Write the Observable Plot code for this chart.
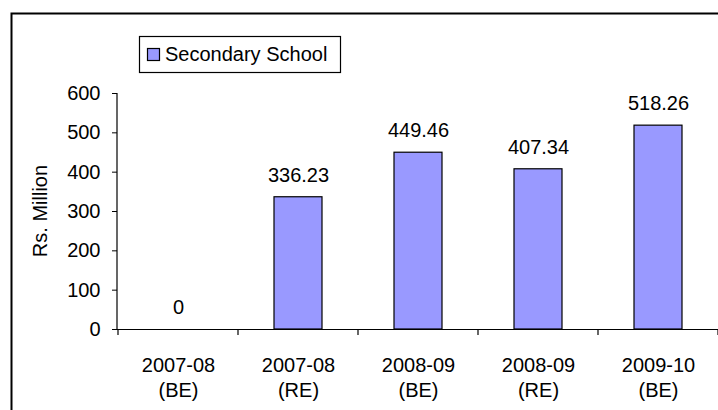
<!DOCTYPE html>
<html>
<head>
<meta charset="utf-8">
<script src="https://cdn.jsdelivr.net/npm/d3@7"></script>
<script src="https://cdn.jsdelivr.net/npm/@observablehq/plot@0.6"></script>
<style>
  html, body { margin: 0; padding: 0; background: #ffffff; }
  #chart { width: 718px; height: 410px; overflow: hidden; }
</style>
</head>
<body>
<div id="chart"></div>
<script>
// Budget allocation for secondary schools, Rs. million
const years = ["2007-08", "2007-08", "2008-09", "2008-09", "2009-10"];
const estimates = ["(BE)", "(RE)", "(BE)", "(RE)", "(BE)"];
const values = [0, 336.23, 449.46, 407.34, 518.26];
const seriesName = "Secondary School";
const yTicks = [0, 100, 200, 300, 400, 500, 600];
const yTitle = "Rs. Million";

const categories = years.map((y, i) => `${y} ${estimates[i]}`);
const rows = categories.map((c, i) => ({category: c, value: values[i]}));

const barFill = "#9999ff";
const font = "'Liberation Sans', Arial, sans-serif";

const plot = Plot.plot({
  width: 718,
  height: 410,
  marginLeft: 117,
  marginRight: 0,
  marginTop: 93,
  marginBottom: 81,
  style: {fontFamily: font, fontSize: "20px", color: "#000", background: "#fff", overflow: "visible"},
  x: {type: "band", domain: categories, paddingInner: 0.6, paddingOuter: 0.3},
  y: {domain: [0, 600]},
  marks: [
    Plot.barY(rows, {x: "category", y: "value", fill: barFill, stroke: "#000", strokeWidth: 1.2}),
    Plot.text(rows, {x: "category", y: "value", text: d => String(d.value), dy: -22, fontSize: 20, fill: "#000"}),
    Plot.ruleY([0], {stroke: "#000", strokeWidth: 1.2}),
    Plot.axisY({ticks: yTicks, tickSize: 5, tickPadding: 12, label: null, fontSize: 20, stroke: "#000"}),
    Plot.axisX({tickSize: 0, tickPadding: 25, label: null, fontSize: 20, lineHeight: 1.25,
      tickFormat: d => d.replace(" ", "\n")})
  ]
});

document.getElementById("chart").appendChild(plot);

// Axis title, frame lines, category boundary ticks and legend
const svg = d3.select(plot);
const xs = plot.scale("x");
const ys = plot.scale("y");
const x0 = xs.range[0], x1 = xs.range[1];
const yBase = ys.apply(0), yTop = ys.apply(600);

svg.append("text")
  .attr("transform", `translate(${x0 - 77},${(yTop + yBase) / 2}) rotate(-90)`)
  .attr("text-anchor", "middle").attr("dy", "0.35em")
  .attr("font-family", font).attr("font-size", 20).attr("fill", "#000")
  .text(yTitle);

svg.append("line")
  .attr("x1", x0).attr("x2", x0).attr("y1", yTop).attr("y2", yBase)
  .attr("stroke", "#000").attr("stroke-width", 1.2);

const step = xs.step;
const bounds = categories.map(c => xs.apply(c) + xs.bandwidth / 2 - step / 2);
bounds.push(x1);
svg.append("g").selectAll("line").data(bounds).join("line")
  .attr("x1", d => d).attr("x2", d => d)
  .attr("y1", yBase).attr("y2", yBase + 6)
  .attr("stroke", "#000").attr("stroke-width", 1.2);

svg.append("path")
  .attr("d", "M11.5,410V13.5H718")
  .attr("fill", "none").attr("stroke", "#000").attr("stroke-width", 2);

const legend = svg.append("g");
legend.append("rect")
  .attr("x", 139.5).attr("y", 36.5).attr("width", 201).attr("height", 36)
  .attr("fill", "#fff").attr("stroke", "#000").attr("stroke-width", 1.2);
legend.append("rect")
  .attr("x", 147.5).attr("y", 48.5).attr("width", 12).attr("height", 12)
  .attr("fill", barFill).attr("stroke", "#000").attr("stroke-width", 1.2);
legend.append("text")
  .attr("x", 165).attr("y", 61)
  .attr("text-anchor", "start")
  .attr("font-family", font).attr("font-size", 20).attr("fill", "#000")
  .text(seriesName);
</script>
</body>
</html>
